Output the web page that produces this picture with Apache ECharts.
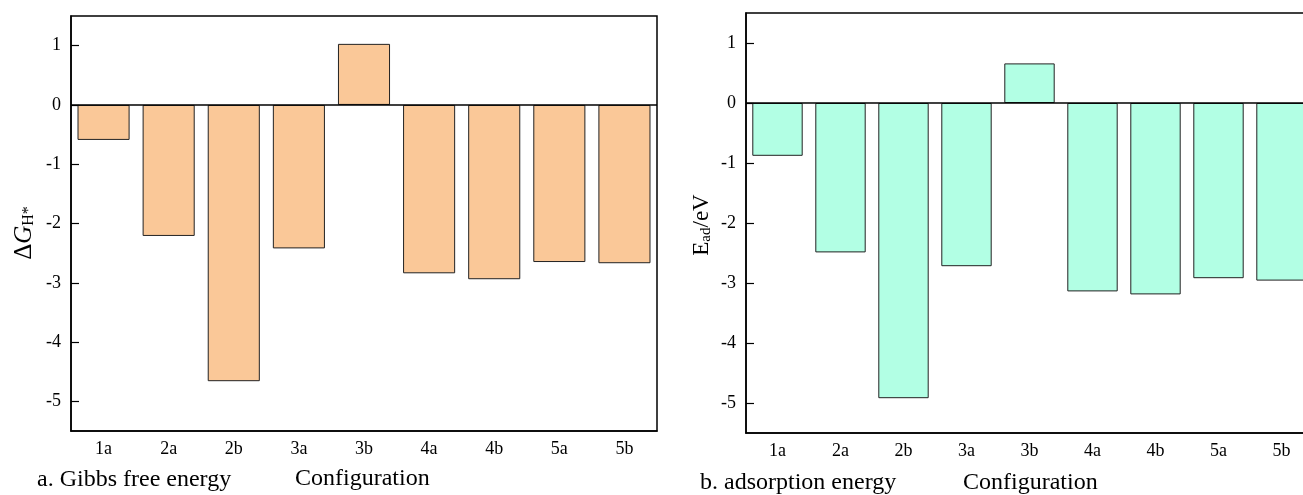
<!DOCTYPE html>
<html><head><meta charset="utf-8">
<script src="https://cdn.jsdelivr.net/npm/echarts@6/dist/echarts.min.js"></script>
<style>html,body{margin:0;padding:0;background:#fff;overflow:hidden}#c{width:1330px;height:495px}</style>
</head><body><div id="c"></div>
<script>
const categories = ['1a','2a','2b','3a','3b','4a','4b','5a','5b'];
const gibbs = [-0.59,-2.21,-4.66,-2.42,1.03,-2.84,-2.94,-2.65,-2.67];
const adsorption = [-0.88,-2.49,-4.92,-2.72,0.66,-3.14,-3.19,-2.92,-2.96];
const yTicks = [-5,-4,-3,-2,-1,0,1];

const FONT = 'Liberation Serif';
const chart = echarts.init(document.getElementById('c'), null, {renderer:'canvas'});

function xAxis(gi){
  return {type:'category', gridIndex:gi, data:categories,
    axisLine:{onZero:false, lineStyle:{color:'#000', width:1.5}},
    axisTick:{inside:true, alignWithLabel:true, length:6, lineStyle:{color:'#000', width:1.2}},
    axisLabel:{color:'#000', fontFamily:FONT, fontSize:18, margin:9},
    splitLine:{show:false}};
}
function yAxis(gi){
  return {type:'value', gridIndex:gi, min:-5.5, max:1.5, interval:1,
    axisLine:{show:true, lineStyle:{color:'#000', width:1.5}},
    axisTick:{show:true, inside:true, length:8, lineStyle:{color:'#000', width:1.2},
      customValues: yTicks},
    axisLabel:{color:'#000', fontFamily:FONT, fontSize:18, margin:10, customValues: yTicks,
      formatter: v => String(v)},
    splitLine:{show:false}};
}
function bars(gi, data, color){
  return {type:'bar', xAxisIndex:gi, yAxisIndex:gi, data:data, barCategoryGap:'20%',
    itemStyle:{color:color, borderColor:'#222', borderWidth:1},
    markLine:{silent:true, symbol:'none', label:{show:false},
      lineStyle:{color:'#000', width:1.5, type:'solid'}, data:[{yAxis:0}]}};
}

chart.setOption({
  animation:false,
  grid:[
    {left:71, top:16, width:586, bottom:64, show:true, borderColor:'#000', borderWidth:1.5, backgroundColor:'#fff'},
    {left:746, top:13, width:567, bottom:62, show:true, borderColor:'#000', borderWidth:1.5, backgroundColor:'#fff'}
  ],
  xAxis:[xAxis(0), xAxis(1)],
  yAxis:[yAxis(0), yAxis(1)],
  series:[bars(0, gibbs, '#FAC898'), bars(1, adsorption, '#B2FFE4')],
  graphic:[
    {type:'text', x:23, y:233, rotation:Math.PI/2, style:{
      text:'{d|Δ}{g|G}{s|H*}', align:'center', verticalAlign:'middle',
      rich:{d:{fontFamily:FONT,fontSize:25,fill:'#000',verticalAlign:'bottom',lineHeight:28},
            g:{fontFamily:FONT,fontSize:25,fontStyle:'italic',fill:'#000',verticalAlign:'bottom',lineHeight:28},
            s:{fontFamily:FONT,fontSize:16,fill:'#000',verticalAlign:'bottom',lineHeight:28,padding:[9,0,0,0]}}}},
    {type:'text', x:700, y:225, rotation:Math.PI/2, style:{
      text:'{e|E}{s|ad}{e|/eV}', align:'center', verticalAlign:'middle',
      rich:{e:{fontFamily:FONT,fontSize:23,fill:'#000',verticalAlign:'bottom',lineHeight:27},
            s:{fontFamily:FONT,fontSize:15,fill:'#000',verticalAlign:'bottom',lineHeight:27,padding:[8,0,0,0]}}}},
    {type:'text', x:37, y:480, style:{text:'a. Gibbs free energy', fontFamily:FONT, fontSize:24, fill:'#000', verticalAlign:'middle'}},
    {type:'text', x:295, y:479, style:{text:'Configuration', fontFamily:FONT, fontSize:24, fill:'#000', verticalAlign:'middle'}},
    {type:'text', x:700, y:483, style:{text:'b. adsorption energy', fontFamily:FONT, fontSize:24, fill:'#000', verticalAlign:'middle'}},
    {type:'text', x:963, y:483, style:{text:'Configuration', fontFamily:FONT, fontSize:24, fill:'#000', verticalAlign:'middle'}}
  ]
});
</script></body></html>
